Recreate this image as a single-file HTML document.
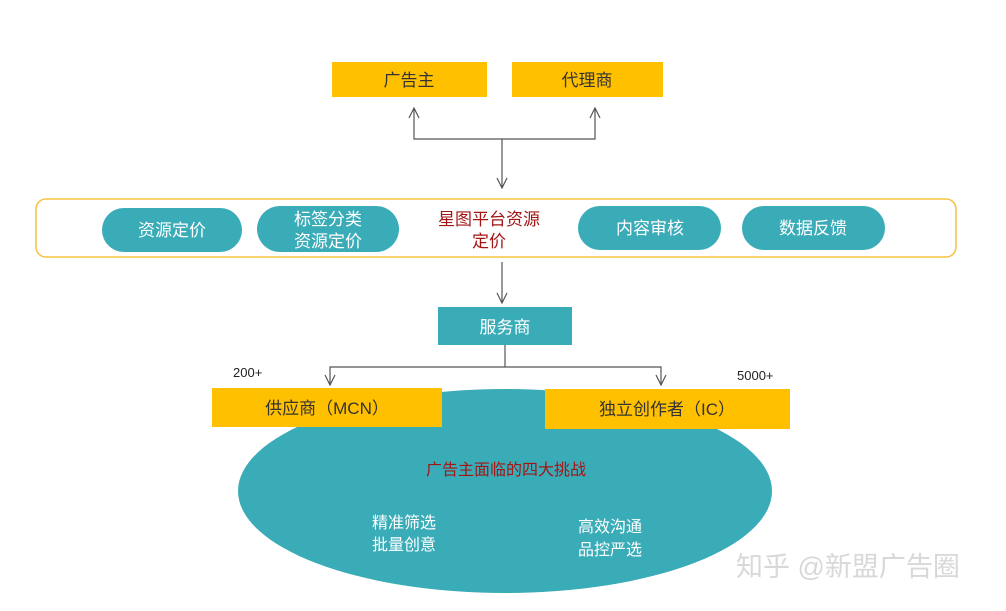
<!DOCTYPE html>
<html><head><meta charset="utf-8"><style>
body{margin:0;background:#fff;}
svg text{font-family:"Liberation Sans","Noto Sans CJK SC",sans-serif;}
</style></head><body>
<svg width="1006" height="606" viewBox="0 0 1006 606" xmlns="http://www.w3.org/2000/svg">
<defs><marker id="a" markerWidth="12" markerHeight="12" refX="11" refY="6" orient="auto-start-reverse" markerUnits="userSpaceOnUse"><path d="M1,1 L11,6 L1,11" fill="none" stroke="#555" stroke-width="1.2"/></marker></defs>
<rect width="1006" height="606" fill="#fff"/>
<rect x="332" y="62" width="155" height="35" fill="#ffc000"/>
<text x="409" y="86" font-size="17" text-anchor="middle" fill="#333">广告主</text>
<rect x="512" y="62" width="151" height="35" fill="#ffc000"/>
<text x="587" y="86" font-size="17" text-anchor="middle" fill="#333">代理商</text>
<path d="M414,108 V139 H595 V108" fill="none" stroke="#555" stroke-width="1.2" marker-start="url(#a)" marker-end="url(#a)"/>
<path d="M502,139 V188" fill="none" stroke="#555" stroke-width="1.2" marker-end="url(#a)"/>
<rect x="36" y="199" width="920" height="58" rx="10" fill="#fff" stroke="#f5c342" stroke-width="1.5"/>
<rect x="102" y="208" width="140" height="44" rx="22" fill="#3aacb8"/>
<text x="172" y="236" font-size="17" text-anchor="middle" fill="#fff">资源定价</text>
<rect x="257" y="206" width="142" height="46" rx="23" fill="#3aacb8"/>
<text x="328" y="225" font-size="17" text-anchor="middle" fill="#fff">标签分类</text>
<text x="328" y="247" font-size="17" text-anchor="middle" fill="#fff">资源定价</text>
<text x="489" y="225" font-size="17" text-anchor="middle" fill="#a31515">星图平台资源</text>
<text x="489" y="247" font-size="17" text-anchor="middle" fill="#a31515">定价</text>
<rect x="578" y="206" width="143" height="44" rx="22" fill="#3aacb8"/>
<text x="650" y="234" font-size="17" text-anchor="middle" fill="#fff">内容审核</text>
<rect x="742" y="206" width="143" height="44" rx="22" fill="#3aacb8"/>
<text x="813" y="234" font-size="17" text-anchor="middle" fill="#fff">数据反馈</text>
<path d="M502,262 V303" fill="none" stroke="#555" stroke-width="1.2" marker-end="url(#a)"/>
<rect x="438" y="307" width="134" height="38" fill="#3aacb8"/>
<text x="505" y="333" font-size="17" text-anchor="middle" fill="#fff">服务商</text>
<path d="M505,345 V367" stroke="#555" stroke-width="1.2"/>
<path d="M330,385 V367 H661 V385" fill="none" stroke="#555" stroke-width="1.2" marker-start="url(#a)" marker-end="url(#a)"/>
<text x="233" y="377" font-size="13" fill="#222">200+</text>
<text x="737" y="380" font-size="13" fill="#222">5000+</text>
<ellipse cx="505" cy="491" rx="267" ry="102" fill="#3aacb8"/>
<rect x="212" y="388" width="230" height="39" fill="#ffc000"/>
<text x="327" y="414" font-size="17" text-anchor="middle" fill="#333">供应商（MCN）</text>
<rect x="545" y="389" width="245" height="40" fill="#ffc000"/>
<text x="667" y="415" font-size="17" text-anchor="middle" fill="#333">独立创作者（IC）</text>
<text x="506" y="475" font-size="16" text-anchor="middle" fill="#a31515">广告主面临的四大挑战</text>
<text x="404" y="528" font-size="16" text-anchor="middle" fill="#fff">精准筛选</text>
<text x="404" y="550" font-size="16" text-anchor="middle" fill="#fff">批量创意</text>
<text x="610" y="532" font-size="16" text-anchor="middle" fill="#fff">高效沟通</text>
<text x="610" y="555" font-size="16" text-anchor="middle" fill="#fff">品控严选</text>
<text x="736" y="576" font-size="27" fill="#d8d8d8">知乎 @新盟广告圈</text>
</svg>
</body></html>
